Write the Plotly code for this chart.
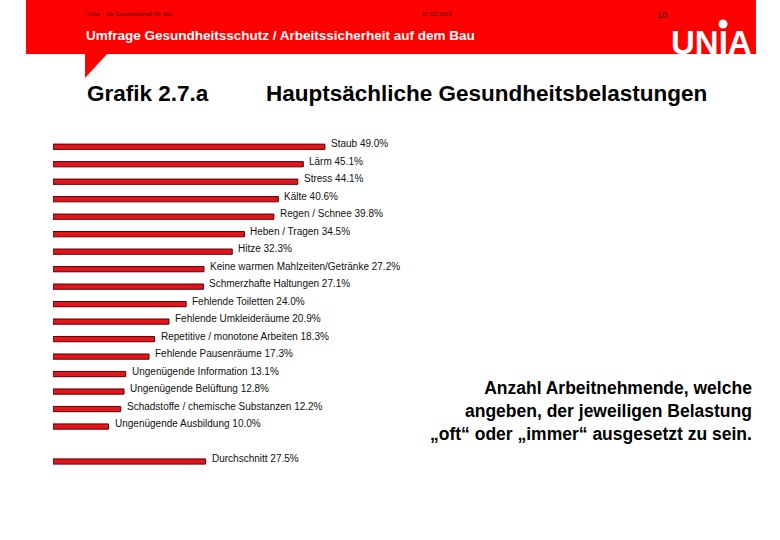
import plotly.graph_objects as go

# ---- data ----
categories = [
    "Staub", "Lärm", "Stress", "Kälte", "Regen / Schnee", "Heben / Tragen", "Hitze",
    "Keine warmen Mahlzeiten/Getränke", "Schmerzhafte Haltungen", "Fehlende Toiletten",
    "Fehlende Umkleideräume", "Repetitive / monotone Arbeiten", "Fehlende Pausenräume",
    "Ungenügende Information", "Ungenügende Belüftung", "Schadstoffe / chemische Substanzen",
    "Ungenügende Ausbildung",
]
values = [49.0, 45.1, 44.1, 40.6, 39.8, 34.5, 32.3, 27.2, 27.1, 24.0, 20.9, 18.3, 17.3,
          13.1, 12.8, 12.2, 10.0]
avg_label = "Durchschnitt"
avg_value = 27.5

W, H = 780, 540
L, R, T, B = 53, 172, 138, 68
PW, PH = W - L - R, H - T - B

def px(x):
    return (x - L) / PW

def py(y):
    return (H - B - y) / PH

spacer = "\u200b"
cats = categories + [spacer, avg_label]
vals = values + [None, avg_value]

fig = go.Figure()
fig.add_trace(go.Bar(
    x=vals, y=cats, orientation="h", width=0.3,
    marker=dict(color="#e3141b", line=dict(color="#5a0000", width=1)),
    hoverinfo="skip",
))

annotations = []
for c, v in zip(cats, vals):
    if v is None:
        continue
    annotations.append(dict(
        x=v, y=c, xref="x", yref="y", xanchor="left", yanchor="middle",
        xshift=4, yshift=3, showarrow=False,
        text=f"{c} {v:.1f}%",
        font=dict(family="Liberation Sans, Arial, sans-serif", size=10, color="#111111"),
    ))

def txt(x, y, text, size, color="#000", bold=False, anchor="left", family="Liberation Sans, Arial, sans-serif", align="left"):
    if bold:
        text = f"<b>{text}</b>"
    annotations.append(dict(
        x=px(x), y=py(y), xref="paper", yref="paper", xanchor=anchor, yanchor="middle",
        showarrow=False, text=text, align=align,
        font=dict(family=family, size=size, color=color),
    ))

# header texts
txt(85, 14, "Unia – die Gewerkschaft für alle", 6, color="#3a0000")
txt(420, 14, "27.02.2021", 6, color="#3a0000")
txt(655, 15, "10", 9, color="#3a0000")
txt(84, 36, "Umfrage Gesundheitsschutz / Arbeitssicherheit auf dem Bau", 13.5, color="#ffffff", bold=True)
txt(711, 42.5, "UNIA", 33, color="#ffffff", bold=True, anchor="center")

# titles
txt(85, 93, "Grafik 2.7.a", 22.5, bold=True)
txt(264, 93, "Hauptsächliche Gesundheitsbelastungen", 22.5, bold=True)

# note
txt(754, 411, "Anzahl Arbeitnehmende, welche<br>angeben, der jeweiligen Belastung<br>„oft“ oder „immer“ ausgesetzt zu sein.",
    17.5, bold=True, anchor="right", align="right")

shapes = [
    dict(type="rect", xref="paper", yref="paper", x0=px(26), x1=px(756), y0=py(54), y1=py(0),
         fillcolor="#ff0000", line=dict(width=0), layer="below"),
    dict(type="path", xref="paper", yref="paper",
         path=f"M {px(85)} {py(53)} L {px(108)} {py(53)} L {px(85)} {py(78)} Z",
         fillcolor="#ff0000", line=dict(width=0), layer="below"),
    dict(type="circle", xref="paper", yref="paper", x0=px(718.5), x1=px(727.5), y0=py(28.5), y1=py(19.5),
         fillcolor="#ffffff", line=dict(width=0)),
]

fig.update_layout(
    width=W, height=H,
    margin=dict(l=L, r=R, t=T, b=B),
    paper_bgcolor="#ffffff", plot_bgcolor="#ffffff",
    showlegend=False,
    xaxis=dict(range=[0, 100], visible=False, fixedrange=True),
    yaxis=dict(categoryorder="array", categoryarray=cats, autorange="reversed",
               visible=False, fixedrange=True),
    annotations=annotations,
    shapes=shapes,
)

fig.write_html("out.html", config={"displayModeBar": False},
               post_script="document.body.style.margin='0';document.body.style.padding='0';")
